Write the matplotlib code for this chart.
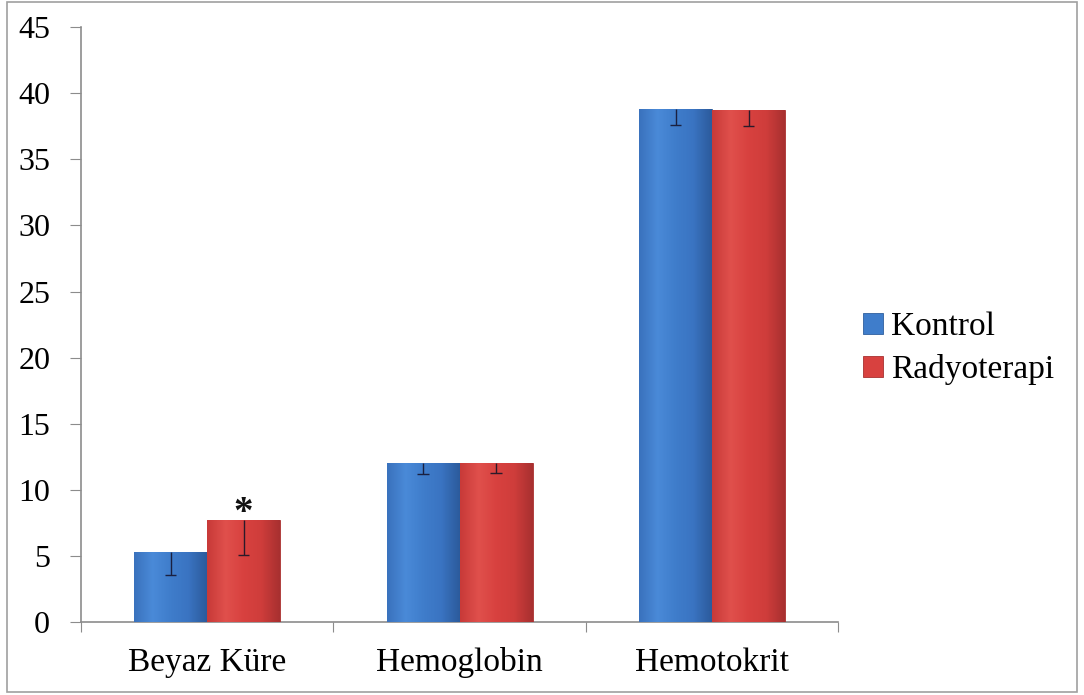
import matplotlib

matplotlib.use("Agg")
import matplotlib.pyplot as plt  # noqa: E402
import numpy as np  # noqa: E402
from matplotlib.colors import LinearSegmentedColormap  # noqa: E402
from matplotlib.patches import Rectangle  # noqa: E402

plt.rcParams["font.family"] = ["Liberation Serif", "DejaVu Serif"]

categories = ["Beyaz Küre", "Hemoglobin", "Hemotokrit"]
kontrol = [5.3, 12.0, 38.8]
kontrol_err = [1.75, 0.8, 1.2]
radyoterapi = [7.7, 12.0, 38.7]
radyoterapi_err = [2.65, 0.7, 1.2]
significant = [True, False, False]
yticks = [0, 5, 10, 15, 20, 25, 30, 35, 40, 45]

BLUE = "#3f7dcb"
RED = "#d8413f"
AXIS = "#8c8c8c"
GRAD = {
    BLUE: LinearSegmentedColormap.from_list(
        "b", ["#3a72bd", "#4a8ad8", "#3f7dcb", "#3a74c2", "#2c5b9c"]),
    RED: LinearSegmentedColormap.from_list(
        "r", ["#c83a38", "#e0504c", "#d8413f", "#cf3d3b", "#a83030"]),
}

fig = plt.figure(figsize=(10.84, 6.95), dpi=100)
fig.patch.set_facecolor("white")
fig.add_artist(Rectangle((0.006, 0.004), 0.988, 0.993, transform=fig.transFigure,
                         fill=False, edgecolor="#a0a0a0", linewidth=1.2))
ax = fig.add_axes([0.0745, 0.105, 0.699, 0.856])

x = np.arange(len(categories))
w = 0.289
bk = ax.bar(x - w / 2, kontrol, width=w, color=BLUE, edgecolor="#2f5f9e",
            linewidth=0.6, zorder=3, label="Kontrol")
br = ax.bar(x + w / 2, radyoterapi, width=w, color=RED, edgecolor="#a83030",
            linewidth=0.6, zorder=3, label="Radyoterapi")

# horizontal shading inside each bar
grad = np.linspace(0, 1, 64).reshape(1, -1)
for bars, col in ((bk, BLUE), (br, RED)):
    for p in bars:
        im = ax.imshow(grad, cmap=GRAD[col], aspect="auto", zorder=3.1,
                       extent=(p.get_x(), p.get_x() + p.get_width(),
                               0, p.get_height()))
        im.set_clip_path(p)

ax.set_xlim(-0.5, 2.5)
ax.set_ylim(0, 45)

# only the lower half of the error bars is drawn
cap = 0.045
for xs, vals, errs, c in ((x - w / 2, kontrol, kontrol_err, "#1a2040"),
                          (x + w / 2, radyoterapi, radyoterapi_err, "#2a1a2a")):
    lows = np.array(vals) - np.array(errs)
    ax.vlines(xs, lows, vals, color=c, linewidth=1.0, zorder=4)
    ax.hlines(lows, xs - cap / 2, xs + cap / 2, color=c, linewidth=1.0, zorder=4)
for xi, v, s in zip(x, radyoterapi, significant):
    if s:
        ax.text(xi + w / 2, v + 0.5, "*", ha="center", va="center",
                fontsize=28, fontweight="bold", color="#111111")

ax.set_yticks(yticks)
ax.set_yticklabels([str(t) for t in yticks], fontsize=23)
ax.set_xticks([-0.5, 0.5, 1.5, 2.5])
ax.set_xticklabels([])
ax.set_xticks(x, minor=True)
ax.set_xticklabels(categories, minor=True, fontsize=24)
ax.tick_params(axis="x", which="minor", length=0, pad=18)
ax.tick_params(axis="x", which="major", length=7, color=AXIS, direction="out")
ax.tick_params(axis="y", length=8, color=AXIS, direction="out", pad=14)
for side in ("top", "right"):
    ax.spines[side].set_visible(False)
for side in ("left", "bottom"):
    ax.spines[side].set_color(AXIS)
    ax.spines[side].set_linewidth(1.2)

leg = ax.legend(loc="center left", bbox_to_anchor=(1.015, 0.46), frameon=False,
                fontsize=24, handlelength=0.58, handleheight=0.58,
                handletextpad=0.25, labelspacing=0.36, borderaxespad=0)

fig.savefig("out.png", dpi=100, facecolor="white")
